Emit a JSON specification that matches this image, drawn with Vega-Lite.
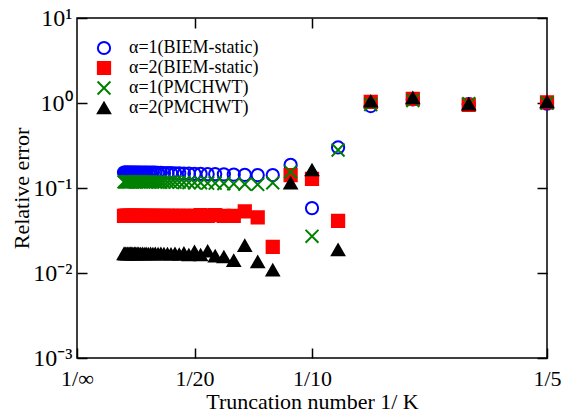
{
  "$schema": "https://vega.github.io/schema/vega-lite/v6.json",
  "width": 470,
  "height": 340,
  "autosize": {"type": "none"},
  "padding": {"left": 77, "top": 18, "right": 37, "bottom": 56},
  "background": "white",
  "config": {
    "view": {"stroke": "black", "strokeWidth": 1.5},
    "axis": {
      "domain": false, "grid": false, "tickColor": "black", "tickSize": -10, "tickWidth": 1.5,
      "labelFont": "Liberation Serif", "labelFontSize": 22, "labelColor": "black",
      "titleFont": "Liberation Serif", "titleFontSize": 22, "titleFontWeight": "normal", "titleColor": "black",
      "labelOverlap": false, "labelFlush": false
    },
    "legend": {
      "labelFont": "Liberation Serif", "labelFontSize": 18, "labelColor": "black",
      "symbolStrokeWidth": 2, "symbolSize": 150, "labelOffset": 16, "rowPadding": -3, "padding": 0
    }
  },
  "data": {"values": [
    {"s":"α=1(BIEM-static)","K":5,"x":0.2,"y":0.98},
    {"s":"α=1(BIEM-static)","K":6,"x":0.1667,"y":0.97},
    {"s":"α=1(BIEM-static)","K":7,"x":0.1429,"y":1.1},
    {"s":"α=1(BIEM-static)","K":8,"x":0.125,"y":0.92},
    {"s":"α=1(BIEM-static)","K":9,"x":0.1111,"y":0.30},
    {"s":"α=1(BIEM-static)","K":10,"x":0.1,"y":0.058},
    {"s":"α=1(BIEM-static)","K":11,"x":0.0909,"y":0.187},
    {"s":"α=1(BIEM-static)","K":12,"x":0.0833,"y":0.142},
    {"s":"α=1(BIEM-static)","K":13,"x":0.0769,"y":0.142},
    {"s":"α=1(BIEM-static)","K":14,"x":0.0714,"y":0.143},
    {"s":"α=1(BIEM-static)","K":15,"x":0.0667,"y":0.144},
    {"s":"α=1(BIEM-static)","K":16,"x":0.0625,"y":0.145},
    {"s":"α=1(BIEM-static)","K":17,"x":0.0588,"y":0.146},
    {"s":"α=1(BIEM-static)","K":18,"x":0.0556,"y":0.146},
    {"s":"α=1(BIEM-static)","K":19,"x":0.0526,"y":0.147},
    {"s":"α=1(BIEM-static)","K":20,"x":0.05,"y":0.147},
    {"s":"α=1(BIEM-static)","K":21,"x":0.0476,"y":0.148},
    {"s":"α=1(BIEM-static)","K":22,"x":0.0455,"y":0.148},
    {"s":"α=1(BIEM-static)","K":23,"x":0.0435,"y":0.149},
    {"s":"α=1(BIEM-static)","K":24,"x":0.0417,"y":0.149},
    {"s":"α=1(BIEM-static)","K":25,"x":0.04,"y":0.15},
    {"s":"α=1(BIEM-static)","K":26,"x":0.0385,"y":0.15},
    {"s":"α=1(BIEM-static)","K":27,"x":0.037,"y":0.15},
    {"s":"α=1(BIEM-static)","K":28,"x":0.0357,"y":0.151},
    {"s":"α=1(BIEM-static)","K":29,"x":0.0345,"y":0.151},
    {"s":"α=1(BIEM-static)","K":30,"x":0.0333,"y":0.152},
    {"s":"α=1(BIEM-static)","K":31,"x":0.0323,"y":0.152},
    {"s":"α=1(BIEM-static)","K":32,"x":0.0313,"y":0.152},
    {"s":"α=1(BIEM-static)","K":33,"x":0.0303,"y":0.152},
    {"s":"α=1(BIEM-static)","K":34,"x":0.0294,"y":0.152},
    {"s":"α=1(BIEM-static)","K":35,"x":0.0286,"y":0.152},
    {"s":"α=1(BIEM-static)","K":36,"x":0.0278,"y":0.152},
    {"s":"α=1(BIEM-static)","K":37,"x":0.027,"y":0.152},
    {"s":"α=1(BIEM-static)","K":38,"x":0.0263,"y":0.152},
    {"s":"α=1(BIEM-static)","K":39,"x":0.0256,"y":0.152},
    {"s":"α=1(BIEM-static)","K":40,"x":0.025,"y":0.152},
    {"s":"α=1(BIEM-static)","K":41,"x":0.0244,"y":0.152},
    {"s":"α=1(BIEM-static)","K":42,"x":0.0238,"y":0.152},
    {"s":"α=1(BIEM-static)","K":43,"x":0.0233,"y":0.152},
    {"s":"α=1(BIEM-static)","K":44,"x":0.0227,"y":0.152},
    {"s":"α=1(BIEM-static)","K":45,"x":0.0222,"y":0.152},
    {"s":"α=1(BIEM-static)","K":46,"x":0.0217,"y":0.152},
    {"s":"α=1(BIEM-static)","K":47,"x":0.0213,"y":0.152},
    {"s":"α=1(BIEM-static)","K":48,"x":0.0208,"y":0.152},
    {"s":"α=1(BIEM-static)","K":49,"x":0.0204,"y":0.152},
    {"s":"α=1(BIEM-static)","K":50,"x":0.02,"y":0.152},

    {"s":"α=2(BIEM-static)","K":5,"x":0.2,"y":1.02},
    {"s":"α=2(BIEM-static)","K":6,"x":0.1667,"y":0.95},
    {"s":"α=2(BIEM-static)","K":7,"x":0.1429,"y":1.12},
    {"s":"α=2(BIEM-static)","K":8,"x":0.125,"y":1.03},
    {"s":"α=2(BIEM-static)","K":9,"x":0.1111,"y":0.041},
    {"s":"α=2(BIEM-static)","K":10,"x":0.1,"y":0.128},
    {"s":"α=2(BIEM-static)","K":11,"x":0.0909,"y":0.142},
    {"s":"α=2(BIEM-static)","K":12,"x":0.0833,"y":0.0203},
    {"s":"α=2(BIEM-static)","K":13,"x":0.0769,"y":0.045},
    {"s":"α=2(BIEM-static)","K":14,"x":0.0714,"y":0.053},
    {"s":"α=2(BIEM-static)","K":15,"x":0.0667,"y":0.047},
    {"s":"α=2(BIEM-static)","K":16,"x":0.0625,"y":0.047},
    {"s":"α=2(BIEM-static)","K":17,"x":0.0588,"y":0.048},
    {"s":"α=2(BIEM-static)","K":18,"x":0.0556,"y":0.047},
    {"s":"α=2(BIEM-static)","K":19,"x":0.0526,"y":0.048},
    {"s":"α=2(BIEM-static)","K":20,"x":0.05,"y":0.047},
    {"s":"α=2(BIEM-static)","K":21,"x":0.0476,"y":0.047},
    {"s":"α=2(BIEM-static)","K":22,"x":0.0455,"y":0.047},
    {"s":"α=2(BIEM-static)","K":23,"x":0.0435,"y":0.047},
    {"s":"α=2(BIEM-static)","K":24,"x":0.0417,"y":0.047},
    {"s":"α=2(BIEM-static)","K":25,"x":0.04,"y":0.047},
    {"s":"α=2(BIEM-static)","K":26,"x":0.0385,"y":0.047},
    {"s":"α=2(BIEM-static)","K":27,"x":0.037,"y":0.047},
    {"s":"α=2(BIEM-static)","K":28,"x":0.0357,"y":0.047},
    {"s":"α=2(BIEM-static)","K":29,"x":0.0345,"y":0.047},
    {"s":"α=2(BIEM-static)","K":30,"x":0.0333,"y":0.047},
    {"s":"α=2(BIEM-static)","K":31,"x":0.0323,"y":0.047},
    {"s":"α=2(BIEM-static)","K":32,"x":0.0313,"y":0.047},
    {"s":"α=2(BIEM-static)","K":33,"x":0.0303,"y":0.047},
    {"s":"α=2(BIEM-static)","K":34,"x":0.0294,"y":0.047},
    {"s":"α=2(BIEM-static)","K":35,"x":0.0286,"y":0.047},
    {"s":"α=2(BIEM-static)","K":36,"x":0.0278,"y":0.047},
    {"s":"α=2(BIEM-static)","K":37,"x":0.027,"y":0.047},
    {"s":"α=2(BIEM-static)","K":38,"x":0.0263,"y":0.047},
    {"s":"α=2(BIEM-static)","K":39,"x":0.0256,"y":0.047},
    {"s":"α=2(BIEM-static)","K":40,"x":0.025,"y":0.047},
    {"s":"α=2(BIEM-static)","K":41,"x":0.0244,"y":0.047},
    {"s":"α=2(BIEM-static)","K":42,"x":0.0238,"y":0.047},
    {"s":"α=2(BIEM-static)","K":43,"x":0.0233,"y":0.047},
    {"s":"α=2(BIEM-static)","K":44,"x":0.0227,"y":0.047},
    {"s":"α=2(BIEM-static)","K":45,"x":0.0222,"y":0.047},
    {"s":"α=2(BIEM-static)","K":46,"x":0.0217,"y":0.047},
    {"s":"α=2(BIEM-static)","K":47,"x":0.0213,"y":0.047},
    {"s":"α=2(BIEM-static)","K":48,"x":0.0208,"y":0.047},
    {"s":"α=2(BIEM-static)","K":49,"x":0.0204,"y":0.047},
    {"s":"α=2(BIEM-static)","K":50,"x":0.02,"y":0.047},

    {"s":"α=1(PMCHWT)","K":5,"x":0.2,"y":1.0},
    {"s":"α=1(PMCHWT)","K":6,"x":0.1667,"y":0.98},
    {"s":"α=1(PMCHWT)","K":7,"x":0.1429,"y":1.07},
    {"s":"α=1(PMCHWT)","K":8,"x":0.125,"y":0.96},
    {"s":"α=1(PMCHWT)","K":9,"x":0.1111,"y":0.28},
    {"s":"α=1(PMCHWT)","K":10,"x":0.1,"y":0.027},
    {"s":"α=1(PMCHWT)","K":11,"x":0.0909,"y":0.155},
    {"s":"α=1(PMCHWT)","K":12,"x":0.0833,"y":0.115},
    {"s":"α=1(PMCHWT)","K":13,"x":0.0769,"y":0.11},
    {"s":"α=1(PMCHWT)","K":14,"x":0.0714,"y":0.111},
    {"s":"α=1(PMCHWT)","K":15,"x":0.0667,"y":0.112},
    {"s":"α=1(PMCHWT)","K":16,"x":0.0625,"y":0.113},
    {"s":"α=1(PMCHWT)","K":17,"x":0.0588,"y":0.114},
    {"s":"α=1(PMCHWT)","K":18,"x":0.0556,"y":0.114},
    {"s":"α=1(PMCHWT)","K":19,"x":0.0526,"y":0.115},
    {"s":"α=1(PMCHWT)","K":20,"x":0.05,"y":0.115},
    {"s":"α=1(PMCHWT)","K":21,"x":0.0476,"y":0.116},
    {"s":"α=1(PMCHWT)","K":22,"x":0.0455,"y":0.116},
    {"s":"α=1(PMCHWT)","K":23,"x":0.0435,"y":0.117},
    {"s":"α=1(PMCHWT)","K":24,"x":0.0417,"y":0.117},
    {"s":"α=1(PMCHWT)","K":25,"x":0.04,"y":0.117},
    {"s":"α=1(PMCHWT)","K":26,"x":0.0385,"y":0.117},
    {"s":"α=1(PMCHWT)","K":27,"x":0.037,"y":0.117},
    {"s":"α=1(PMCHWT)","K":28,"x":0.0357,"y":0.117},
    {"s":"α=1(PMCHWT)","K":29,"x":0.0345,"y":0.117},
    {"s":"α=1(PMCHWT)","K":30,"x":0.0333,"y":0.118},
    {"s":"α=1(PMCHWT)","K":31,"x":0.0323,"y":0.118},
    {"s":"α=1(PMCHWT)","K":32,"x":0.0313,"y":0.118},
    {"s":"α=1(PMCHWT)","K":33,"x":0.0303,"y":0.118},
    {"s":"α=1(PMCHWT)","K":34,"x":0.0294,"y":0.118},
    {"s":"α=1(PMCHWT)","K":35,"x":0.0286,"y":0.118},
    {"s":"α=1(PMCHWT)","K":36,"x":0.0278,"y":0.118},
    {"s":"α=1(PMCHWT)","K":37,"x":0.027,"y":0.118},
    {"s":"α=1(PMCHWT)","K":38,"x":0.0263,"y":0.118},
    {"s":"α=1(PMCHWT)","K":39,"x":0.0256,"y":0.118},
    {"s":"α=1(PMCHWT)","K":40,"x":0.025,"y":0.118},
    {"s":"α=1(PMCHWT)","K":41,"x":0.0244,"y":0.118},
    {"s":"α=1(PMCHWT)","K":42,"x":0.0238,"y":0.118},
    {"s":"α=1(PMCHWT)","K":43,"x":0.0233,"y":0.118},
    {"s":"α=1(PMCHWT)","K":44,"x":0.0227,"y":0.118},
    {"s":"α=1(PMCHWT)","K":45,"x":0.0222,"y":0.118},
    {"s":"α=1(PMCHWT)","K":46,"x":0.0217,"y":0.118},
    {"s":"α=1(PMCHWT)","K":47,"x":0.0213,"y":0.118},
    {"s":"α=1(PMCHWT)","K":48,"x":0.0208,"y":0.118},
    {"s":"α=1(PMCHWT)","K":49,"x":0.0204,"y":0.118},
    {"s":"α=1(PMCHWT)","K":50,"x":0.02,"y":0.118},

    {"s":"α=2(PMCHWT)","K":5,"x":0.2,"y":1.03},
    {"s":"α=2(PMCHWT)","K":6,"x":0.1667,"y":0.97},
    {"s":"α=2(PMCHWT)","K":7,"x":0.1429,"y":1.15},
    {"s":"α=2(PMCHWT)","K":8,"x":0.125,"y":1.05},
    {"s":"α=2(PMCHWT)","K":9,"x":0.1111,"y":0.0187},
    {"s":"α=2(PMCHWT)","K":10,"x":0.1,"y":0.163},
    {"s":"α=2(PMCHWT)","K":11,"x":0.0909,"y":0.114},
    {"s":"α=2(PMCHWT)","K":12,"x":0.0833,"y":0.0108},
    {"s":"α=2(PMCHWT)","K":13,"x":0.0769,"y":0.0135},
    {"s":"α=2(PMCHWT)","K":14,"x":0.0714,"y":0.021},
    {"s":"α=2(PMCHWT)","K":15,"x":0.0667,"y":0.014},
    {"s":"α=2(PMCHWT)","K":16,"x":0.0625,"y":0.0154},
    {"s":"α=2(PMCHWT)","K":17,"x":0.0588,"y":0.0158},
    {"s":"α=2(PMCHWT)","K":18,"x":0.0556,"y":0.018},
    {"s":"α=2(PMCHWT)","K":19,"x":0.0526,"y":0.0163},
    {"s":"α=2(PMCHWT)","K":20,"x":0.05,"y":0.0177},
    {"s":"α=2(PMCHWT)","K":21,"x":0.0476,"y":0.0163},
    {"s":"α=2(PMCHWT)","K":22,"x":0.0455,"y":0.017},
    {"s":"α=2(PMCHWT)","K":23,"x":0.0435,"y":0.0165},
    {"s":"α=2(PMCHWT)","K":24,"x":0.0417,"y":0.0168},
    {"s":"α=2(PMCHWT)","K":25,"x":0.04,"y":0.0166},
    {"s":"α=2(PMCHWT)","K":26,"x":0.0385,"y":0.0167},
    {"s":"α=2(PMCHWT)","K":27,"x":0.037,"y":0.0167},
    {"s":"α=2(PMCHWT)","K":28,"x":0.0357,"y":0.0168},
    {"s":"α=2(PMCHWT)","K":29,"x":0.0345,"y":0.0167},
    {"s":"α=2(PMCHWT)","K":30,"x":0.0333,"y":0.0168},
    {"s":"α=2(PMCHWT)","K":31,"x":0.0323,"y":0.0167},
    {"s":"α=2(PMCHWT)","K":32,"x":0.0313,"y":0.0168},
    {"s":"α=2(PMCHWT)","K":33,"x":0.0303,"y":0.0167},
    {"s":"α=2(PMCHWT)","K":34,"x":0.0294,"y":0.0168},
    {"s":"α=2(PMCHWT)","K":35,"x":0.0286,"y":0.0167},
    {"s":"α=2(PMCHWT)","K":36,"x":0.0278,"y":0.0168},
    {"s":"α=2(PMCHWT)","K":37,"x":0.027,"y":0.0167},
    {"s":"α=2(PMCHWT)","K":38,"x":0.0263,"y":0.0168},
    {"s":"α=2(PMCHWT)","K":39,"x":0.0256,"y":0.0168},
    {"s":"α=2(PMCHWT)","K":40,"x":0.025,"y":0.0168},
    {"s":"α=2(PMCHWT)","K":41,"x":0.0244,"y":0.0168},
    {"s":"α=2(PMCHWT)","K":42,"x":0.0238,"y":0.0168},
    {"s":"α=2(PMCHWT)","K":43,"x":0.0233,"y":0.0168},
    {"s":"α=2(PMCHWT)","K":44,"x":0.0227,"y":0.0168},
    {"s":"α=2(PMCHWT)","K":45,"x":0.0222,"y":0.0168},
    {"s":"α=2(PMCHWT)","K":46,"x":0.0217,"y":0.0168},
    {"s":"α=2(PMCHWT)","K":47,"x":0.0213,"y":0.0168},
    {"s":"α=2(PMCHWT)","K":48,"x":0.0208,"y":0.0168},
    {"s":"α=2(PMCHWT)","K":49,"x":0.0204,"y":0.0168},
    {"s":"α=2(PMCHWT)","K":50,"x":0.02,"y":0.0168}
  ]},
  "layer": [
    {
      "mark": {"type": "point", "opacity": 1, "strokeWidth": 2, "size": 150},
      "encoding": {
        "x": {"field": "x", "type": "quantitative",
              "scale": {"domain": [0, 0.2], "nice": false, "zero": false},
              "axis": {"orient": "bottom", "values": [0, 0.05, 0.1, 0.2], "labelPadding": 20,
                       "labelExpr": "datum.value == 0 ? '1/∞' : datum.value == 0.05 ? '1/20' : datum.value == 0.1 ? '1/10' : '1/5'",
                       "title": "Truncation number 1/ K", "titleBaseline": "alphabetic", "titleY": 50}},
        "y": {"field": "y", "type": "quantitative",
              "scale": {"type": "log", "domain": [0.001, 10], "nice": false},
              "axis": {"orient": "left", "values": [0.001, 0.01, 0.1, 1, 10], "labelPadding": 15, "labelFontSize": 24,
                       "labelExpr": "datum.value == 10 ? '10¹' : datum.value == 1 ? '10⁰' : datum.value == 0.1 ? '10⁻¹' : datum.value == 0.01 ? '10⁻²' : '10⁻³'",
                       "title": "Relative error", "titleX": -44, "titleY": 170}},
        "shape": {"field": "s", "type": "nominal",
                  "scale": {"domain": ["α=1(BIEM-static)", "α=2(BIEM-static)", "α=1(PMCHWT)", "α=2(PMCHWT)"],
                            "range": ["circle", "square", "M-1.05,-1.05L1.05,1.05M-1.05,1.05L1.05,-1.05", "triangle-up"]},
                  "legend": {"title": null, "orient": "none", "legendX": 18, "legendY": 21}},
        "stroke": {"field": "s", "type": "nominal",
                   "scale": {"domain": ["α=1(BIEM-static)", "α=2(BIEM-static)", "α=1(PMCHWT)", "α=2(PMCHWT)"],
                             "range": ["#0000ff", "#ff0000", "#008000", "#000000"]},
                   "legend": {"title": null, "orient": "none", "legendX": 18, "legendY": 21}},
        "fill": {"field": "s", "type": "nominal",
                 "scale": {"domain": ["α=1(BIEM-static)", "α=2(BIEM-static)", "α=1(PMCHWT)", "α=2(PMCHWT)"],
                           "range": ["transparent", "#ff0000", "transparent", "#000000"]},
                 "legend": {"title": null, "orient": "none", "legendX": 18, "legendY": 21}}
      }
    },
    {
      "mark": {"type": "point", "opacity": 0},
      "encoding": {
        "x": {"field": "x", "type": "quantitative",
              "axis": {"orient": "top", "values": [0.05, 0.1], "labels": false, "title": null}},
        "y": {"field": "y", "type": "quantitative",
              "axis": {"orient": "right", "values": [0.001, 0.01, 0.1, 1, 10], "labels": false, "title": null}}
      }
    }
  ],
  "resolve": {"axis": {"x": "independent", "y": "independent"}}
}
